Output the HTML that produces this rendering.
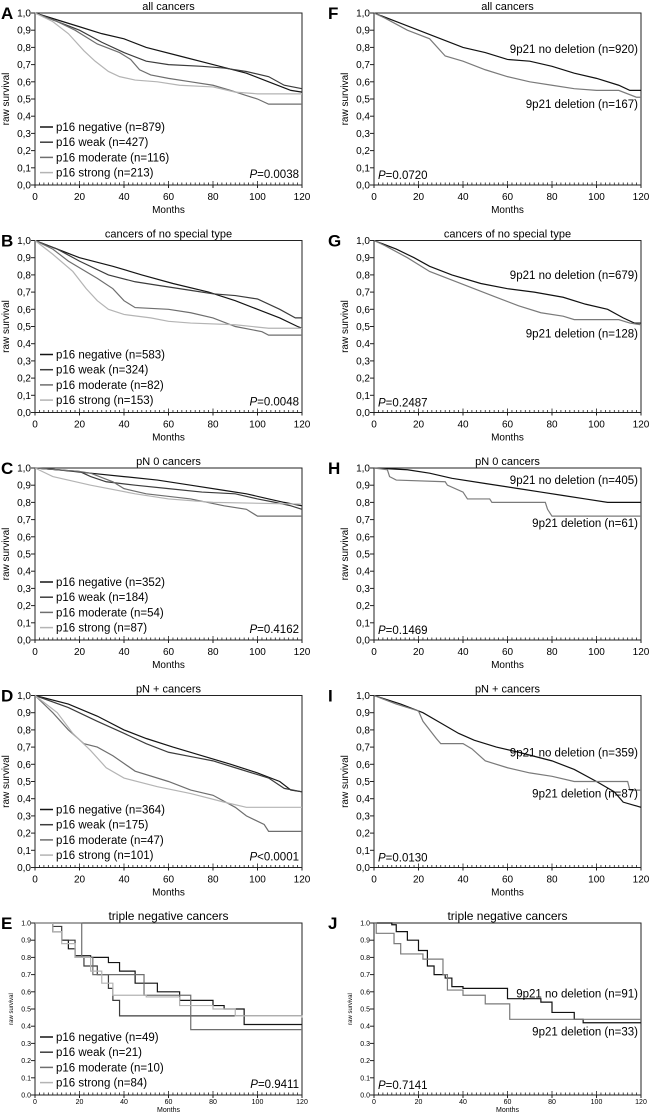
<!DOCTYPE html>
<html><head><meta charset="utf-8"><style>
html,body{margin:0;padding:0;background:#fff;}
svg{display:block;font-family:"Liberation Sans",sans-serif;}
</style></head>
<body>
<svg id="fig" width="650" height="1117" viewBox="0 0 650 1117"></svg>
<script>
// ---- data ----
const panelLetters = ["A","B","C","D","E","F","G","H","I","J"];
const panelTitles = ["all cancers","cancers of no special type","pN 0 cancers","pN + cancers","triple negative cancers",
  "all cancers","cancers of no special type","pN 0 cancers","pN + cancers","triple negative cancers"];
const pValues = ["=0.0038","=0.0048","=0.4162","<0.0001","=0.9411","=0.0720","=0.2487","=0.1469","=0.0130","=0.7141"];
const xTicks = [0,20,40,60,80,100,120];
const yTicks = [0,0.1,0.2,0.3,0.4,0.5,0.6,0.7,0.8,0.9,1.0];
const stepPanels = [false,false,false,false,true,false,false,false,false,true];
const p16Labels = [
  ["p16 negative (n=879)","p16 weak (n=427)","p16 moderate (n=116)","p16 strong (n=213)"],
  ["p16 negative (n=583)","p16 weak (n=324)","p16 moderate (n=82)","p16 strong (n=153)"],
  ["p16 negative (n=352)","p16 weak (n=184)","p16 moderate (n=54)","p16 strong (n=87)"],
  ["p16 negative (n=364)","p16 weak (n=175)","p16 moderate (n=47)","p16 strong (n=101)"],
  ["p16 negative (n=49)","p16 weak (n=21)","p16 moderate (n=10)","p16 strong (n=84)"]];
const delLabels = [
  ["9p21 no deletion (n=920)","9p21 deletion (n=167)"],
  ["9p21 no deletion (n=679)","9p21 deletion (n=128)"],
  ["9p21 no deletion (n=405)","9p21 deletion (n=61)"],
  ["9p21 no deletion (n=359)","9p21 deletion (n=87)"],
  ["9p21 no deletion (n=91)","9p21 deletion (n=33)"]];
const delLabelY = [[0.79,0.47],[0.80,0.46],[0.93,0.68],[0.67,0.43],[0.59,0.37]];

// series: [month, survival]
const A_neg=[[0,1],[10,0.96],[20,0.92],[30,0.88],[40,0.85],[50,0.80],[65,0.75],[80,0.70],[95,0.65],[105,0.60],[115,0.55],[120,0.54]];
const A_weak=[[0,1],[10,0.95],[20,0.90],[30,0.83],[40,0.77],[50,0.72],[60,0.70],[75,0.69],[85,0.68],[95,0.66],[105,0.63],[112,0.58],[120,0.56]];
const A_mod=[[0,1],[10,0.95],[18,0.90],[28,0.82],[38,0.77],[43,0.73],[47,0.67],[52,0.64],[60,0.62],[70,0.60],[80,0.58],[88,0.55],[95,0.52],[100,0.50],[105,0.47],[120,0.47]];
const A_str=[[0,1],[8,0.95],[15,0.88],[22,0.78],[27,0.72],[33,0.66],[38,0.63],[45,0.61],[55,0.60],[65,0.58],[80,0.57],[90,0.54],[100,0.53],[120,0.53]];
const B_neg=[[0,1],[10,0.95],[20,0.90],[35,0.85],[48,0.80],[62,0.75],[78,0.70],[90,0.65],[100,0.60],[110,0.55],[118,0.50],[120,0.49]];
const B_weak=[[0,1],[10,0.95],[20,0.88],[33,0.80],[45,0.76],[55,0.74],[70,0.71],[80,0.69],[90,0.68],[100,0.66],[110,0.60],[117,0.55],[120,0.55]];
const B_mod=[[0,1],[8,0.95],[15,0.88],[28,0.78],[35,0.72],[40,0.65],[45,0.61],[60,0.60],[70,0.58],[80,0.55],[90,0.50],[102,0.47],[105,0.45],[120,0.45]];
const B_str=[[0,1],[8,0.92],[17,0.82],[23,0.72],[28,0.65],[33,0.60],[40,0.57],[52,0.55],[60,0.53],[70,0.52],[90,0.51],[105,0.49],[120,0.49]];
const C_neg=[[0,1],[10,0.99],[25,0.97],[40,0.95],[55,0.93],[70,0.90],[85,0.87],[95,0.85],[105,0.82],[112,0.80],[120,0.78]];
const C_weak=[[0,1],[20,0.98],[25,0.95],[32,0.92],[45,0.90],[60,0.88],[75,0.86],[90,0.85],[100,0.82],[108,0.80],[115,0.78],[120,0.76]];
const C_mod=[[0,1],[20,0.98],[25,0.97],[35,0.92],[40,0.88],[50,0.85],[70,0.82],[85,0.78],[95,0.76],[100,0.72],[120,0.72]];
const C_str=[[0,1],[8,0.95],[25,0.90],[45,0.85],[60,0.82],[80,0.80],[120,0.79]];
const D_neg=[[0,1],[15,0.95],[28,0.88],[40,0.80],[50,0.75],[62,0.70],[75,0.65],[88,0.60],[100,0.55],[110,0.50],[115,0.45],[120,0.44]];
const D_weak=[[0,1],[15,0.93],[28,0.85],[40,0.78],[50,0.72],[60,0.67],[72,0.64],[80,0.62],[90,0.58],[105,0.52],[112,0.46],[120,0.44]];
const D_mod=[[0,1],[8,0.90],[15,0.80],[22,0.72],[28,0.70],[35,0.65],[45,0.56],[60,0.50],[70,0.45],[80,0.42],[90,0.35],[95,0.30],[103,0.25],[105,0.21],[120,0.21]];
const D_str=[[0,1],[10,0.90],[17,0.78],[25,0.68],[32,0.58],[40,0.52],[55,0.47],[70,0.43],[85,0.38],[95,0.35],[120,0.35]];
const E_neg=[[0,1],[8,0.95],[12,0.90],[15,0.85],[18,0.81],[25,0.80],[33,0.77],[38,0.72],[45,0.65],[55,0.60],[65,0.55],[80,0.52],[85,0.50],[94,0.41],[120,0.41]];
const E_weak=[[0,1],[8,0.98],[12,0.90],[18,0.80],[22,0.75],[28,0.70],[33,0.62],[35,0.55],[38,0.46],[120,0.46]];
const E_mod=[[0,1],[21,0.80],[26,0.70],[49,0.58],[70,0.38],[120,0.38]];
const E_str=[[0,1],[8,0.95],[12,0.88],[18,0.80],[25,0.72],[30,0.65],[35,0.58],[50,0.57],[65,0.52],[80,0.50],[90,0.46],[120,0.45]];
const F_no=[[0,1],[10,0.95],[20,0.90],[30,0.85],[40,0.80],[50,0.77],[60,0.73],[70,0.72],[80,0.69],[90,0.65],[100,0.62],[110,0.58],[115,0.55],[120,0.55]];
const F_del=[[0,1],[5,0.97],[15,0.90],[25,0.85],[32,0.75],[40,0.72],[50,0.67],[60,0.63],[70,0.60],[80,0.58],[90,0.56],[100,0.55],[110,0.55],[118,0.51],[120,0.51]];
const G_no=[[0,1],[10,0.95],[18,0.90],[25,0.85],[35,0.80],[48,0.75],[60,0.72],[72,0.70],[85,0.67],[95,0.63],[105,0.60],[112,0.55],[117,0.52],[120,0.52]];
const G_del=[[0,1],[5,0.97],[15,0.90],[25,0.82],[35,0.77],[45,0.72],[55,0.67],[65,0.62],[75,0.58],[85,0.56],[90,0.54],[110,0.54],[115,0.52],[120,0.51]];
const H_no=[[0,1],[15,0.99],[25,0.97],[35,0.94],[50,0.91],[65,0.88],[75,0.86],[85,0.84],[95,0.82],[105,0.80],[120,0.80]];
const H_del=[[0,1],[6,0.99],[7,0.95],[10,0.93],[32,0.92],[33,0.90],[40,0.86],[42,0.82],[52,0.82],[53,0.80],[77,0.80],[78,0.76],[80,0.72],[120,0.72]];
const I_no=[[0,1],[12,0.95],[22,0.90],[30,0.84],[38,0.78],[45,0.74],[55,0.70],[65,0.67],[80,0.62],[90,0.57],[100,0.50],[108,0.44],[112,0.38],[120,0.35]];
const I_del=[[0,1],[10,0.95],[20,0.91],[22,0.85],[28,0.75],[30,0.72],[40,0.72],[44,0.69],[50,0.62],[60,0.58],[70,0.55],[80,0.53],[90,0.50],[114,0.50],[115,0.45],[120,0.45]];
const J_no=[[0,1],[8,0.99],[10,0.95],[15,0.90],[20,0.84],[24,0.75],[27,0.70],[32,0.68],[35,0.63],[40,0.62],[55,0.62],[60,0.56],[75,0.54],[80,0.48],[90,0.44],[94,0.42],[120,0.42]];
const J_del=[[0,1],[1,0.94],[9,0.88],[12,0.82],[22,0.79],[31,0.70],[33,0.61],[40,0.58],[50,0.53],[61,0.44],[120,0.44]];

const panelSeries = [[A_neg,A_weak,A_mod,A_str],[B_neg,B_weak,B_mod,B_str],[C_neg,C_weak,C_mod,C_str],[D_neg,D_weak,D_mod,D_str],[E_neg,E_weak,E_mod,E_str],
  [F_no,F_del],[G_no,G_del],[H_no,H_del],[I_no,I_del],[J_no,J_del]];

// ---- drawing ----
const NS="http://www.w3.org/2000/svg";
const svg=document.getElementById('fig');
function mk(tag,attrs,parent){const e=document.createElementNS(NS,tag);for(const k in attrs)e.setAttribute(k,attrs[k]);(parent||svg).appendChild(e);return e;}
const p16Colors=["#141414","#3c3c3c","#6e6e6e","#b4b4b4"];
const delColors=["#111111","#7a7a7a"];

for(let i=0;i<10;i++){
  const col=i<5?0:1, row=i%5;
  const L=col?374:35, R=col?641:302, T=13+227.5*row, B=T+172;
  const small=(row===4);
  const g=mk('g',{});
  
  
  const xs=m=>L+(R-L)*m/120, ys=v=>B-(B-T)*v;
  const lt=mk('text',{x:col?328:1,y:T+6,'font-size':17,'font-weight':'bold'},g);lt.textContent=panelLetters[i];
  
  const tt=mk('text',{x:(L+R)/2,y:T-3,'font-size':small?12:11,'text-anchor':'middle'},g);tt.textContent=panelTitles[i];
  
  const fr=mk('rect',{x:L,y:T,width:R-L,height:B-T,fill:'none',stroke:'#222','stroke-width':1},g);
  
  yTicks.forEach(v=>{
    mk('line',{x1:L-4,x2:L,y1:ys(v),y2:ys(v),stroke:'#222'},g);
    const t=mk('text',{x:L-4,y:ys(v)+(small?2.5:3.5),'font-size':small?7:10,'text-anchor':'end'},g);
    t.textContent=small?v.toFixed(1):v.toFixed(1).replace('.',',');
    
  });
  for(let m=0;m<=120;m+=2){mk('line',{x1:xs(m),x2:xs(m),y1:B,y2:B-(m%20===0?4:2.5),stroke:'#222','stroke-width':0.8},g);}
  xTicks.forEach(m=>{
    mk('line',{x1:xs(m),x2:xs(m),y1:B,y2:B+3,stroke:'#222'},g);
    const t=mk('text',{x:xs(m),y:B+(small?9:15),'font-size':small?7:10,'text-anchor':'middle'},g);t.textContent=m;
    
  });
  const xl=mk('text',{x:(L+R)/2,y:B+(small?17:28),'font-size':small?7:10,'text-anchor':'middle'},g);xl.textContent='Months';
  
  const ycx=L-(small?22:26), ycy=(T+B)/2;
  const yl=mk('text',{x:ycx,y:ycy,'font-size':small?6:10,'text-anchor':'middle',transform:`rotate(-90 ${ycx} ${ycy})`},g);yl.textContent='raw survival';
  
  const ser=panelSeries[i];
  const cols=col?delColors:p16Colors;
  ser.forEach((s,k)=>{
    let d=`M${xs(s[0][0])},${ys(s[0][1])}`;
    for(let j=1;j<s.length;j++){
      if(stepPanels[i]) d+=` H${xs(s[j][0])} V${ys(s[j][1])}`;
      else d+=` L${xs(s[j][0])},${ys(s[j][1])}`;
    }
    const p=mk('path',{d:d,fill:'none',stroke:cols[k],'stroke-width':1.2},g);
    
  });
  if(!col){
    p16Labels[row].forEach((lab,k)=>{
      const y=T+114+k*15.2;
      mk('line',{x1:L+5,x2:L+18,y1:y,y2:y,stroke:p16Colors[k],'stroke-width':1.5},g);
      const t=mk('text',{x:L+21,y:y+4,'font-size':11.5},g);t.textContent=lab;
      
    });
    const pv=mk('text',{x:R-3,y:B-7,'font-size':11.5,'text-anchor':'end'},g);
    pv.innerHTML='<tspan font-style="italic">P</tspan>'+pValues[i];
    
  } else {
    delLabels[row].forEach((lab,k)=>{
      const t=mk('text',{x:R-3,y:ys(delLabelY[row][k])+4,'font-size':11.5,'text-anchor':'end'},g);t.textContent=lab;
      
    });
    const pv=mk('text',{x:L+4,y:B-6,'font-size':11.5},g);
    pv.innerHTML='<tspan font-style="italic">P</tspan>'+pValues[i];
    
  }
}
</script>
</body></html>
